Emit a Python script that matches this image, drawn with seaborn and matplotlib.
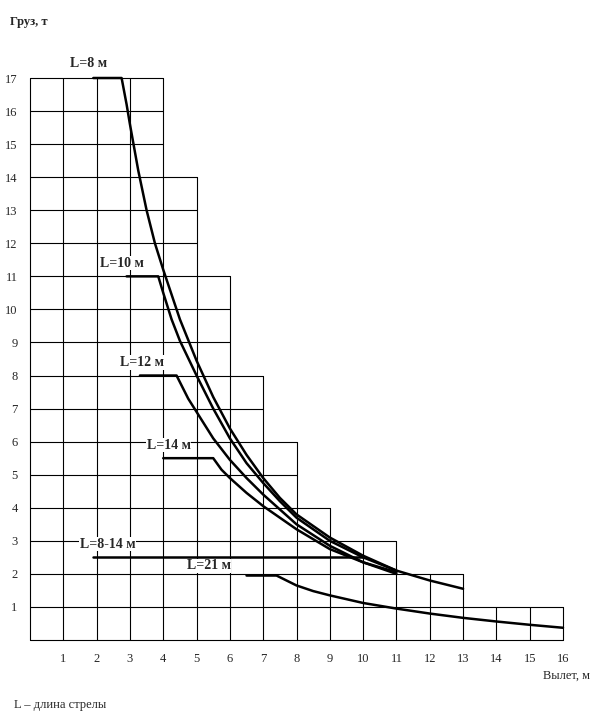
import matplotlib
matplotlib.use("Agg")
import matplotlib.pyplot as plt
import seaborn as sns
import pandas as pd

sns.set_theme(style="white")
plt.rcParams['font.family'] = ['Liberation Serif', 'DejaVu Serif']

# grid staircase: horizontal line y -> right end x ; vertical line x -> top y
h_levels = list(range(0, 18))
h_ends = [16, 16, 13, 11, 9, 8, 8, 7, 7, 6, 6, 6, 5, 5, 5, 4, 4, 4]
v_pos = list(range(0, 17))
v_tops = [17, 17, 17, 17, 17, 14, 11, 8, 6, 4, 3, 3, 2, 2, 1, 1, 1]

curves = {
    "L=8 м": ([1.9, 2.75, 2.9, 3.0, 3.25, 3.5, 3.75, 4, 4.5, 5, 5.5, 6, 6.5, 7, 7.5, 8, 9, 10, 11, 12, 13],
              [17, 17, 16.2, 15.6, 14.2, 13.0, 12.0, 11.2, 9.7, 8.45, 7.35, 6.4, 5.6, 4.9, 4.3, 3.8, 3.1, 2.55, 2.1, 1.8, 1.55]),
    "L=10 м": ([2.9, 3.85, 4, 4.25, 4.5, 5, 5.5, 6, 6.5, 7, 7.5, 8, 9, 10, 11],
               [11, 11, 10.5, 9.7, 9.05, 8.0, 7.0, 6.1, 5.35, 4.75, 4.2, 3.7, 3.0, 2.5, 2.1]),
    "L=12 м": ([3.3, 4.4, 4.75, 5, 5.5, 6, 6.5, 7, 7.5, 8, 9, 10, 11],
               [8, 8, 7.3, 6.9, 6.1, 5.45, 4.9, 4.4, 3.95, 3.5, 2.85, 2.35, 2.0]),
    "L=14 м": ([4.0, 5.5, 5.75, 6, 6.5, 7, 7.5, 8, 9, 10, 11],
               [5.5, 5.5, 5.15, 4.9, 4.45, 4.05, 3.7, 3.35, 2.75, 2.35, 2.05]),
    "L=8-14 м": ([1.9, 10.0], [2.5, 2.5]),
    "L=21 м": ([6.5, 7.4, 7.7, 8, 8.5, 9, 10, 11, 12, 13, 14, 15, 16],
               [1.95, 1.95, 1.8, 1.65, 1.48, 1.35, 1.12, 0.95, 0.8, 0.67, 0.56, 0.46, 0.37]),
}
label_pos = {"L=8 м": (1.2, 17.25), "L=10 м": (2.1, 11.2), "L=12 м": (2.7, 8.2),
             "L=14 м": (3.5, 5.7), "L=8-14 м": (1.5, 2.7), "L=21 м": (4.7, 2.05)}

x_ticks = list(range(1, 17))
y_ticks = list(range(1, 18))

fig = plt.figure(figsize=(6.07, 7.25), dpi=100)
ax = fig.add_axes([30/607, 85/725, 533/607, 562/725])
ax.set_xlim(0, 16)
ax.set_ylim(0, 17)
for y, xe in zip(h_levels, h_ends):
    ax.plot([0, xe], [y, y], color="black", lw=0.8, clip_on=False)
for x, yt in zip(v_pos, v_tops):
    ax.plot([x, x], [0, yt], color="black", lw=0.8, clip_on=False)

for name, (xs, ys) in curves.items():
    df = pd.DataFrame({"x": xs, "y": ys})
    sns.lineplot(data=df, x="x", y="y", ax=ax, color="black", lw=1.8, sort=False,
                 estimator=None)
    lx, ly = label_pos[name]
    ax.text(lx, ly, name, fontsize=10, fontweight="bold", va="bottom", ha="left",
            bbox=dict(facecolor="white", edgecolor="none", pad=0.5))
for ln in ax.lines:
    ln.set_clip_on(False)

for s in ax.spines.values():
    s.set_visible(False)
ax.set_xticks(x_ticks)
ax.set_xticklabels([str(v) for v in x_ticks], fontsize=9)
ax.set_yticks(y_ticks)
ax.set_yticklabels([str(v) for v in y_ticks], fontsize=9)
ax.tick_params(length=0, pad=9)
ax.set_xlabel("")
ax.set_ylabel("")

fig.text(10/607, 1 - 22/725, "Груз, т", fontsize=9, fontweight="bold", va="center")
fig.text(590/607, 1 - 676/725, "Вылет, м", fontsize=9, ha="right", va="center")
fig.text(14/607, 1 - 705/725, "L – длина стрелы", fontsize=9, va="center")

fig.savefig("out.png", dpi=100, facecolor="white")
